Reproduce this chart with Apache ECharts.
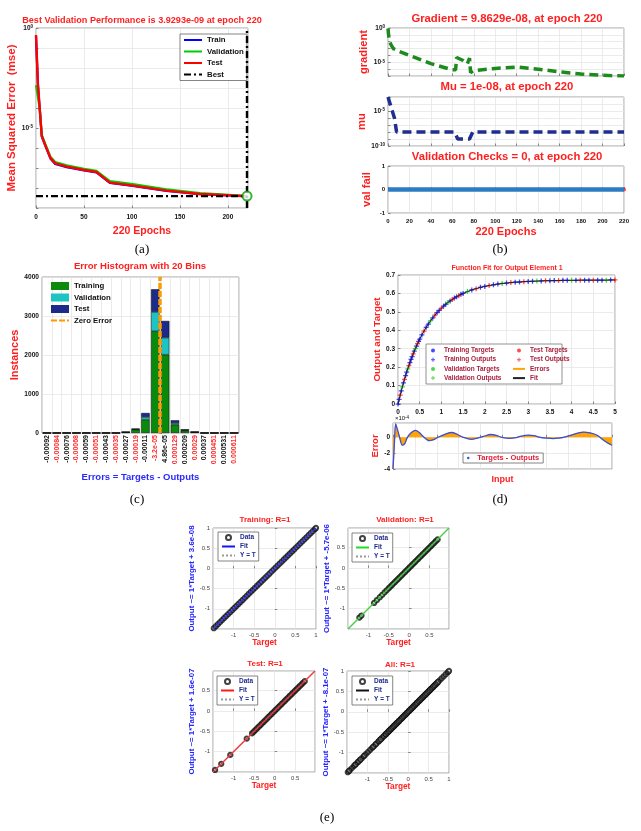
<!DOCTYPE html>
<html>
<head>
<meta charset="utf-8">
<script src="https://cdn.jsdelivr.net/npm/echarts@6/dist/echarts.min.js"></script>
<style>
  html, body { margin: 0; padding: 0; background: #fff; }
  #chart { width: 641px; height: 831px; }
</style>
</head>
<body>
<div id="chart"></div>
<script>
// (a) performance per epoch (mse)
var perfEpochs = [0, 2, 4, 6, 10, 15, 20, 32, 50, 63, 77, 101, 136, 171, 205, 220];
var perfTrain = [0.40, 1.5e-3, 7.5e-5, 3.8e-6, 1.2e-6, 3.0e-7, 1.6e-7, 1.1e-7, 7.5e-8, 6.0e-8, 1.8e-8, 1.28e-8, 7.2e-9, 4.9e-9, 4.2e-9, 3.85e-9];
var perfVal = [1.4e-3, 1.2e-3, 8.5e-5, 4.5e-6, 1.45e-6, 3.7e-7, 2.0e-7, 1.35e-7, 9.0e-8, 7.2e-8, 2.2e-8, 1.55e-8, 8.5e-9, 5.5e-9, 4.4e-9, 3.93e-9];
var perfTest = [0.45, 1.6e-3, 7.9e-5, 4.0e-6, 1.26e-6, 3.2e-7, 1.7e-7, 1.17e-7, 7.9e-8, 6.3e-8, 1.86e-8, 1.32e-8, 7.4e-9, 5.0e-9, 4.3e-9, 3.9e-9];
var bestEpoch = 220;
var bestPerf = 3.9293e-9;

// (b) training state
var gradEpochs = [0, 1, 3, 5, 10, 20, 40, 60, 63, 64, 70, 74, 76, 77, 80, 100, 120, 140, 160, 180, 200, 220];
var gradValues = [0.79, 1.6e-2, 3.2e-3, 1.0e-3, 4.0e-4, 1.0e-4, 6.3e-6, 7.9e-7, 7.9e-7, 5.0e-5, 1.8e-5, 6.3e-6, 4.0e-5, 3.2e-7, 6.3e-7, 1.26e-6, 2.0e-6, 1.0e-6, 4.0e-7, 2.0e-7, 1.26e-7, 9.8629e-8];
var muEpochs = [0, 2, 4, 6, 7, 8, 62, 65, 76, 79, 220];
var muValues = [1e-3, 1e-4, 1e-5, 1e-6, 1e-7, 1e-8, 1e-8, 1e-9, 1e-9, 1e-8, 1e-8];
var valFailEpochs = [0, 220];
var valFailChecks = [0, 0];

// (c) error histogram, 20 bins
var binLabels = ['-0.00092', '-0.00084', '-0.00076', '-0.00068', '-0.00059', '-0.00051', '-0.00043', '-0.00035', '-0.00027', '-0.00019',
  '-0.00011', '-3.2e-05', '4.86e-05', '0.000129', '0.000209', '0.00029', '0.00037', '0.000451', '0.000531', '0.000611'];
var binCenters = [-0.00092, -0.00084, -0.00076, -0.00068, -0.00059, -0.00051, -0.00043, -0.00035, -0.00027, -0.00019,
  -0.00011, -3.2e-05, 4.86e-05, 0.000129, 0.000209, 0.00029, 0.00037, 0.000451, 0.000531, 0.000611];
var histTrain = [0, 0, 0, 0, 0, 0, 0, 0, 20, 87, 343, 2608, 2009, 214, 60, 22, 0, 0, 0, 0];
var histVal = [0, 0, 0, 0, 0, 0, 0, 0, 4, 10, 67, 496, 436, 42, 12, 4, 0, 0, 0, 0];
var histTest = [0, 0, 0, 0, 0, 0, 0, 0, 5, 15, 103, 581, 428, 69, 23, 5, 0, 0, 0, 0];

// (d) function fit
var fitInput = [0, 0.025, 0.05, 0.075, 0.1, 0.125, 0.15, 0.175, 0.2, 0.225, 0.25, 0.275, 0.3, 0.325, 0.35, 0.375, 0.4, 0.425, 0.45, 0.475, 0.5,
  0.55, 0.6, 0.65, 0.7, 0.75, 0.8, 0.85, 0.9, 0.95, 1.0, 1.05, 1.1, 1.15, 1.2, 1.25, 1.3, 1.35, 1.4, 1.45, 1.5,
  1.6, 1.7, 1.8, 1.9, 2.0, 2.1, 2.2, 2.3, 2.4, 2.5, 2.6, 2.7, 2.8, 2.9, 3.0, 3.1, 3.2, 3.3, 3.4, 3.5,
  3.6, 3.7, 3.8, 3.9, 4.0, 4.1, 4.2, 4.3, 4.4, 4.5, 4.6, 4.7, 4.8, 4.9, 5.0];
var fitOutput = [0, 0.025, 0.048, 0.071, 0.093, 0.114, 0.134, 0.154, 0.173, 0.191, 0.208, 0.225, 0.242, 0.257, 0.272, 0.287, 0.301, 0.314, 0.328, 0.340, 0.352,
  0.375, 0.396, 0.416, 0.434, 0.452, 0.467, 0.482, 0.496, 0.508, 0.520, 0.531, 0.541, 0.551, 0.559, 0.567, 0.575, 0.582, 0.588, 0.595, 0.600,
  0.610, 0.619, 0.626, 0.633, 0.638, 0.643, 0.647, 0.651, 0.654, 0.656, 0.659, 0.661, 0.662, 0.664, 0.665, 0.666, 0.667, 0.668, 0.669, 0.669,
  0.670, 0.670, 0.671, 0.671, 0.671, 0.671, 0.672, 0.672, 0.672, 0.672, 0.672, 0.672, 0.672, 0.673, 0.673];
var valIdx = [4, 9, 16, 25, 33, 41, 49, 57, 65, 73];
var testIdx = [2, 6, 10, 14, 18, 22, 27, 30, 35, 38, 43, 46, 51, 54, 59, 62, 67, 70, 75];
var errInput = [0, 0.03, 0.06, 0.1, 0.15, 0.21, 0.27, 0.32, 0.4, 0.51, 0.6, 0.69, 0.82, 0.93, 1.03, 1.2, 1.34, 1.47, 1.6, 1.79, 1.93, 2.06,
  2.23, 2.35, 2.48, 2.67, 2.8, 2.9, 3.09, 3.22, 3.36, 3.5, 3.66, 3.78, 3.89, 4.05, 4.2, 4.35, 4.5, 4.66, 4.8, 4.9, 5.0];
var errValues = [-4.0e-4, -1.0e-4, 1.7e-4, 1.0e-4, 0, -1.0e-4, -0.8e-4, -0.1e-4, 0.5e-4, 0.87e-4, 0.6e-4, 0.1e-4, -0.43e-4, -0.3e-4, 0,
  0.4e-4, 0.6e-4, 0.35e-4, 0, -0.26e-4, -0.1e-4, 0.1e-4, 0.35e-4, 0.25e-4, 0, -0.13e-4, -0.05e-4, 0.1e-4, 0.26e-4, 0.2e-4, 0,
  -0.1e-4, -0.17e-4, -0.1e-4, 0, 0.25e-4, 0.5e-4, 0.65e-4, 0.55e-4, 0.26e-4, -0.35e-4, -0.7e-4, -1.0e-4];

// (e) regression targets and fit intercepts
var regTrain = [-1.48, -1.43, -1.38, -1.33, -1.28, -1.23, -1.18, -1.13, -1.08, -1.03, -0.98, -0.93, -0.88, -0.83, -0.78, -0.73, -0.68,
  -0.63, -0.58, -0.53, -0.48, -0.43, -0.38, -0.33, -0.28, -0.23, -0.18, -0.13, -0.08, -0.03, 0.02, 0.07, 0.12, 0.17, 0.22, 0.27,
  0.32, 0.37, 0.42, 0.47, 0.52, 0.57, 0.62, 0.67, 0.72, 0.77, 0.82, 0.87, 0.92, 0.97, 1.0];
var regVal = [-1.22, -1.17, -0.86, -0.79, -0.72, -0.66, -0.6, -0.55, -0.5, -0.46, -0.42, -0.38, -0.34, -0.3, -0.26, -0.22, -0.18,
  -0.14, -0.1, -0.06, -0.02, 0.02, 0.06, 0.1, 0.14, 0.18, 0.22, 0.26, 0.3, 0.34, 0.38, 0.42, 0.46, 0.5, 0.54, 0.58, 0.62, 0.66, 0.7];
var regTest = [-1.45, -1.3, -1.08, -0.68, -0.55, -0.51, -0.47, -0.43, -0.39, -0.35, -0.31, -0.27, -0.23, -0.19, -0.15, -0.11, -0.07,
  -0.03, 0.01, 0.05, 0.09, 0.13, 0.17, 0.21, 0.25, 0.29, 0.33, 0.37, 0.41, 0.45, 0.49, 0.53, 0.57, 0.61, 0.65, 0.69, 0.73];
var regIntercepts = [3.6e-08, -5.7e-06, 1.6e-07, -8.1e-07];

var FONT = 'Liberation Sans, Arial, sans-serif';
var RED = '#ff1f1f';

function zip(xs, ys) { return xs.map(function (x, i) { return [x, ys[i]]; }); }
function lab(name) { return name.split('|')[0]; }
function powLabel(shown) {
  return function (v) {
    var e = Math.round(Math.log10(v));
    return shown.indexOf(e) >= 0 ? '10{s|' + e + '}' : '';
  };
}
var supRich = { s: { fontSize: 4.5, fontWeight: 'bold', color: '#111', fontFamily: FONT, verticalAlign: 'top' } };

function axis(gi, o) {
  var a = {
    type: o.type || 'value', gridIndex: gi, min: o.min, max: o.max,
    axisLine: { show: false },
    axisTick: { show: o.tick !== false, inside: true, length: 2.5, lineStyle: { color: '#444', width: 0.6 } },
    axisLabel: {
      show: o.labels !== false, color: o.labelColor || '#111', fontSize: o.fs || 6.5,
      fontWeight: o.labelWeight || 'bold', fontFamily: FONT, margin: o.margin || 3,
      formatter: o.formatter, rich: o.rich, showMinLabel: o.showMin, showMaxLabel: o.showMax
    },
    splitLine: { show: o.split !== false, lineStyle: { color: '#e2e2e2', width: 0.7 } },
    name: o.name, nameLocation: 'middle', nameGap: o.nameGap,
    nameTextStyle: { color: o.nameColor || RED, fontSize: o.nameSize || 10, fontWeight: 'bold', fontFamily: FONT }
  };
  if (o.interval != null) a.interval = o.interval;
  if (o.data) a.data = o.data;
  return a;
}
function plain(v) { return String(v); }

var box = { show: true, borderColor: '#8a8a8a', borderWidth: 0.8, backgroundColor: '#fff' };
function grid(l, t, w, h) { return Object.assign({ left: l, top: t, width: w, height: h }, box); }

var grids = [
  grid(36, 28, 212, 180),    // 0 a
  grid(388, 28, 236, 48),    // 1 b gradient
  grid(388, 97, 236, 49),    // 2 b mu
  grid(388, 166, 236, 47),   // 3 b val fail
  grid(42, 277, 197, 156),   // 4 c
  grid(398, 275, 217, 129),  // 5 d fit
  grid(393, 423, 219, 46),   // 6 d error
  grid(213, 528, 103, 101),  // 7 e training
  grid(348, 528, 101, 101),  // 8 e validation
  grid(213, 671, 102, 101),  // 9 e test
  grid(347, 671, 102, 102)   // 10 e all
];

var xAxes = [
  axis(0, { min: 0, max: 221, interval: 50, showMax: false, margin: 6, formatter: plain, name: '220 Epochs', nameGap: 18, nameSize: 10.5 }),
  axis(1, { min: 0, max: 220, interval: 20, labels: false }),
  axis(2, { min: 0, max: 220, interval: 20, labels: false }),
  axis(3, { min: 0, max: 220, interval: 20, fs: 6, margin: 5, formatter: plain, name: '220 Epochs', nameGap: 13, nameSize: 11 }),
  axis(4, { type: 'category', data: binLabels, margin: 2, name: 'Errors = Targets - Outputs', nameGap: 39, nameSize: 9.5, nameColor: '#2a2aff' }),
  { type: 'value', gridIndex: 4, show: false,
    min: binCenters[0] - (binCenters[19] - binCenters[0]) / 38,
    max: binCenters[19] + (binCenters[19] - binCenters[0]) / 38 },
  axis(5, { min: 0, max: 5, interval: 0.5, margin: 5 }),
  axis(6, { min: 0, max: 5, interval: 0.5, labels: false, name: 'Input', nameGap: 6, nameSize: 9 })
];
xAxes[4].axisLabel.rotate = 90;
xAxes[4].axisLabel.interval = 0;
xAxes[4].axisLabel.fontSize = 7;
xAxes[4].axisLabel.formatter = function (v, i) { return (i % 2 ? '{r|' : '{k|') + v + '}'; };
xAxes[4].axisLabel.rich = {
  r: { color: '#ff2a2a', fontSize: 7, fontWeight: 'bold', fontFamily: FONT },
  k: { color: '#111', fontSize: 7, fontWeight: 'bold', fontFamily: FONT }
};
xAxes[4].axisTick = { show: false };

var yAxes = [
  axis(0, { type: 'log', min: 1e-9, max: 1, formatter: powLabel([0, -5]), rich: supRich, name: 'Mean Squared Error  (mse)', nameGap: 17, nameSize: 11.5 }),
  axis(1, { type: 'log', min: 1e-7, max: 1, formatter: powLabel([0, -5]), rich: supRich, name: 'gradient', nameGap: 16, nameSize: 11.2 }),
  axis(2, { type: 'log', min: 1e-10, max: 1e-3, formatter: powLabel([-5, -10]), rich: supRich, name: 'mu', nameGap: 16, nameSize: 11.2 }),
  axis(3, { min: -1, max: 1, interval: 1, fs: 6, formatter: plain, name: 'val fail', nameGap: 16, nameSize: 11.2 }),
  axis(4, { min: 0, max: 4000, interval: 1000, fs: 6.6, formatter: plain, name: 'Instances', nameGap: 16, nameSize: 11 }),
  axis(5, { min: 0, max: 0.7, interval: 0.1, name: 'Output and Target', nameGap: 15, nameSize: 9.8 }),
  axis(6, { min: -4e-4, max: 1.8e-4, interval: 2e-4, showMax: false, name: 'Error', nameGap: 11, nameSize: 9.5,
    formatter: function (v) { return String(Math.round(v * 1e4)); } })
];

// (e) four regression panels
var regPanels = [
  { data: regTrain, color: '#1414ff', max: 1, gap: 12 },
  { data: regVal, color: '#22dd22', max: 0.98, gap: 15 },
  { data: regTest, color: '#ff1a1a', max: 0.98, gap: 12 },
  { data: regTrain.concat(regVal, regTest), color: '#111', max: 1, gap: 13 }
];
regPanels.forEach(function (p, k) {
  var fmt = function (v) { return String(Math.round(v * 10) / 10); };
  xAxes.push(axis(7 + k, { min: -1.5, max: p.max, interval: 0.5, showMin: false, showMax: p.max === 1,
    fs: 6, labelWeight: 'normal', labelColor: '#444', formatter: fmt, name: 'Target', nameGap: 10, nameSize: 8.3 }));
  yAxes.push(axis(7 + k, { min: -1.5, max: p.max, interval: 0.5, showMin: false, showMax: p.max === 1,
    fs: 6, labelWeight: 'normal', labelColor: '#444', formatter: fmt,
    name: 'Output ~= 1*Target + ' + regIntercepts[k].toExponential(1).replace(/e([+-])(\d)$/, 'e$10$2'),
    nameGap: p.gap, nameSize: 7.9, nameColor: '#2323ff' }));
});

var plus = 'path://M3,0H5V3H8V5H5V8H3V5H0V3H3Z';
var fitPoints = zip(fitInput, fitOutput);
var trainPoints = fitPoints.filter(function (p, i) { return valIdx.indexOf(i) < 0 && testIdx.indexOf(i) < 0; });
var valPoints = valIdx.map(function (i) { return fitPoints[i]; });
var testPoints = testIdx.map(function (i) { return fitPoints[i]; });

function line(name, xi, yi, data, color, width, type, extra) {
  return Object.assign({ name: name, type: 'line', xAxisIndex: xi, yAxisIndex: yi, data: data, symbol: 'none',
    lineStyle: { color: color, width: width, type: type || 'solid' }, itemStyle: { color: color } }, extra);
}
function dots(name, xi, yi, data, color, symbol, size) {
  return { name: name, type: 'scatter', xAxisIndex: xi, yAxisIndex: yi, data: data, symbol: symbol, symbolSize: size,
    itemStyle: { color: color } };
}

var series = [
  // (a)
  line('Train|a', 0, 0, zip(perfEpochs, perfTrain), '#0000ff', 2.2),
  line('Validation|a', 0, 0, zip(perfEpochs, perfVal), '#00cc00', 2.2),
  line('Test|a', 0, 0, zip(perfEpochs, perfTest), '#ff0000', 2.4),
  line('Best|a', 0, 0, [[0, bestPerf], [bestEpoch, bestPerf]], '#000', 2.4, [7, 3, 2, 3], {
    z: 4,
    markLine: { silent: true, symbol: 'none', label: { show: false },
      lineStyle: { color: '#000', width: 2.4, type: [7, 3, 2, 3] },
      data: [{ xAxis: bestEpoch }] }
  }),
  { name: 'bestPoint', type: 'scatter', xAxisIndex: 0, yAxisIndex: 0, data: [[bestEpoch, bestPerf]], symbol: 'emptyCircle',
    symbolSize: 9, itemStyle: { color: '#00a000', borderWidth: 1.2 }, z: 5 },
  // (b)
  line('gradient|b', 1, 1, zip(gradEpochs, gradValues), '#1d8a1d', 3.5, [9, 5]),
  line('mu|b', 2, 2, zip(muEpochs, muValues), '#1f2e8f', 3.5, [9, 5]),
  line('valfail|b', 3, 3, zip(valFailEpochs, valFailChecks), '#2c7cc4', 4.5),
  dots('valfailEnd|b', 3, 3, [[valFailEpochs[1], valFailChecks[1]]], '#ff2020', 'circle', 4),
  // (c)
  { name: 'Training|c', type: 'bar', stack: 'h', xAxisIndex: 4, yAxisIndex: 4, data: histTrain, barCategoryGap: '14%',
    itemStyle: { color: '#0a8a0a', borderColor: '#000', borderWidth: 0.5 } },
  { name: 'Validation|c', type: 'bar', stack: 'h', xAxisIndex: 4, yAxisIndex: 4, data: histVal,
    itemStyle: { color: '#1cc4c4', borderColor: '#000', borderWidth: 0.5 } },
  { name: 'Test|c', type: 'bar', stack: 'h', xAxisIndex: 4, yAxisIndex: 4, data: histTest,
    itemStyle: { color: '#1c2a8a', borderColor: '#000', borderWidth: 0.5 } },
  line('Zero Error|c', 5, 4, [], '#ff9a00', 3.5, [6, 2], {
    markLine: { silent: true, symbol: 'none', label: { show: false },
      lineStyle: { color: '#ff9a00', width: 3.5, type: [6, 2] }, data: [{ xAxis: 0 }] }
  }),
  // (d)
  line('Fit|d', 6, 5, fitPoints, '#222', 1),
  dots('Training Targets|d', 6, 5, trainPoints, '#1a1aff', 'circle', 2),
  dots('Training Outputs|d', 6, 5, trainPoints, '#1a1aff', plus, 5),
  dots('Validation Targets|d', 6, 5, valPoints, '#22cc22', 'circle', 2),
  dots('Validation Outputs|d', 6, 5, valPoints, '#22cc22', plus, 5),
  dots('Test Targets|d', 6, 5, testPoints, '#ff2020', 'circle', 2),
  dots('Test Outputs|d', 6, 5, testPoints, '#ff2020', plus, 5),
  line('Errors|d', 7, 6, zip(errInput, errValues), '#ffa500', 1, 'solid', { areaStyle: { color: '#ffa500', opacity: 1 } }),
  line('Targets - Outputs|d', 7, 6, zip(errInput, errValues), '#3a4ee0', 1.3, 'solid', { smooth: 0.3 })
];

regPanels.forEach(function (p, k) {
  var b = regIntercepts[k];
  var lo = -1.5, hi = p.max;
  series.push(line('Fit|e' + k, 8 + k, 7 + k, [[lo, lo + b], [hi, hi + b]], p.color, 1.3));
  series.push(line('Y = T|e' + k, 8 + k, 7 + k, [[lo, lo], [hi, hi]], '#999', 0.8, 'dotted'));
  series.push({ name: 'Data|e' + k, type: 'scatter', xAxisIndex: 8 + k, yAxisIndex: 7 + k,
    data: p.data.map(function (t) { return [t, t + b]; }), symbol: 'emptyCircle', symbolSize: 4.3,
    itemStyle: { color: '#111', borderWidth: 0.8 } });
});

// legend entries for line series: hide the symbol, keep the line
function ln(name) { return { name: name, itemStyle: { opacity: 0 } }; }
function legend(names, left, top, o) {
  return Object.assign({
    data: names, left: left, top: top, orient: 'vertical', formatter: lab, selectedMode: false,
    padding: [2, 3], itemGap: 2, itemWidth: 16, itemHeight: 7, itemTextGap: 3,
    backgroundColor: '#fff', borderColor: '#666', borderWidth: 0.8,
    textStyle: { fontSize: 7, fontWeight: 'bold', color: '#111', fontFamily: FONT }
  }, o);
}

var legends = [
  legend([ln('Train|a'), ln('Validation|a'), ln('Test|a'), ln('Best|a')], 180, 34,
    { itemGap: 3.5, itemWidth: 18, textStyle: { fontSize: 7.8, fontWeight: 'bold', color: '#111', fontFamily: FONT } }),
  legend([{ name: 'Training|c', icon: 'rect' }, { name: 'Validation|c', icon: 'rect' }, { name: 'Test|c', icon: 'rect' }, ln('Zero Error|c')], 47, 280,
    { borderWidth: 0, backgroundColor: 'transparent', itemWidth: 18, itemHeight: 8, itemGap: 3.5,
      itemStyle: { borderWidth: 0 },
      textStyle: { fontSize: 7.8, fontWeight: 'bold', color: '#111', fontFamily: FONT } }),
  legend(['Training Targets|d', 'Training Outputs|d', 'Validation Targets|d', 'Validation Outputs|d'], 428, 345,
    { borderWidth: 0, backgroundColor: 'transparent', itemWidth: 12, itemHeight: 4, itemGap: 2.2,
      textStyle: { fontSize: 6.5, fontWeight: 'bold', color: '#a8203e', fontFamily: FONT } }),
  legend(['Test Targets|d', 'Test Outputs|d', ln('Errors|d'), ln('Fit|d')], 509, 345,
    { borderWidth: 0, backgroundColor: 'transparent', itemWidth: 12, itemHeight: 4, itemGap: 2.2,
      textStyle: { fontSize: 6.5, fontWeight: 'bold', color: '#a8203e', fontFamily: FONT } }),
  legend([{ name: 'Targets - Outputs|d', icon: 'circle' }], 463, 453,
    { padding: [1, 4], itemWidth: 8, itemHeight: 2.5, textStyle: { fontSize: 7.5, fontWeight: 'bold', color: '#e0203a', fontFamily: FONT } })
];
[[218, 532], [352, 533], [217, 676], [352, 676]].forEach(function (pos, k) {
  legends.push(legend(['Data|e' + k, ln('Fit|e' + k), ln('Y = T|e' + k)], pos[0], pos[1],
    { itemWidth: 13, itemHeight: 5, itemGap: 2, padding: [2, 3],
      textStyle: { fontSize: 6.5, fontWeight: 'bold', color: '#1e2a90', fontFamily: FONT } }));
});

function txt(x, y, s, size, color, weight, family, rich) {
  return { type: 'text', x: x, y: y, silent: true, z: 10,
    style: { text: s, fill: color, font: (weight || 'bold') + ' ' + size + 'px ' + (family || FONT),
      textAlign: 'center', textVerticalAlign: 'middle', align: 'center', verticalAlign: 'middle', rich: rich } };
}
var SERIF = 'Liberation Serif, Times New Roman, serif';
var graphics = [
  { type: 'rect', shape: { x: 426, y: 344, width: 136, height: 40 }, z: 3,
    style: { fill: '#fff', stroke: '#777', lineWidth: 0.8 } },
  txt(142, 20, 'Best Validation Performance is 3.9293e-09 at epoch 220', 9.1, RED),
  txt(507, 19, 'Gradient = 9.8629e-08, at epoch 220', 11.3, RED),
  txt(507, 87, 'Mu = 1e-08, at epoch 220', 11.3, RED),
  txt(507, 157, 'Validation Checks = 0, at epoch 220', 11.3, RED),
  txt(140, 266, 'Error Histogram with 20 Bins', 9.6, RED),
  txt(507, 268, 'Function Fit for Output Element 1', 7, RED),
  txt(402, 418, '\u00d710{s|-4}', 6, '#111', 'normal', FONT, { s: { fontSize: 4.5, verticalAlign: 'top', fill: '#111' } }),
  txt(265, 520, 'Training: R=1', 8, RED),
  txt(405, 520, 'Validation: R=1', 8, RED),
  txt(265, 664, 'Test: R=1', 8, RED),
  txt(400, 665, 'All: R=1', 8, RED),
  txt(142, 250, '(a)', 13, '#000', 'normal', SERIF),
  txt(500, 250, '(b)', 13, '#000', 'normal', SERIF),
  txt(137, 500, '(c)', 13, '#000', 'normal', SERIF),
  txt(500, 500, '(d)', 13, '#000', 'normal', SERIF),
  txt(327, 818, '(e)', 13, '#000', 'normal', SERIF)
];

var chart = echarts.init(document.getElementById('chart'));
chart.setOption({
  animation: false,
  backgroundColor: '#fff',
  grid: grids,
  xAxis: xAxes,
  yAxis: yAxes,
  legend: legends,
  series: series,
  graphic: graphics
});
</script>
</body>
</html>
